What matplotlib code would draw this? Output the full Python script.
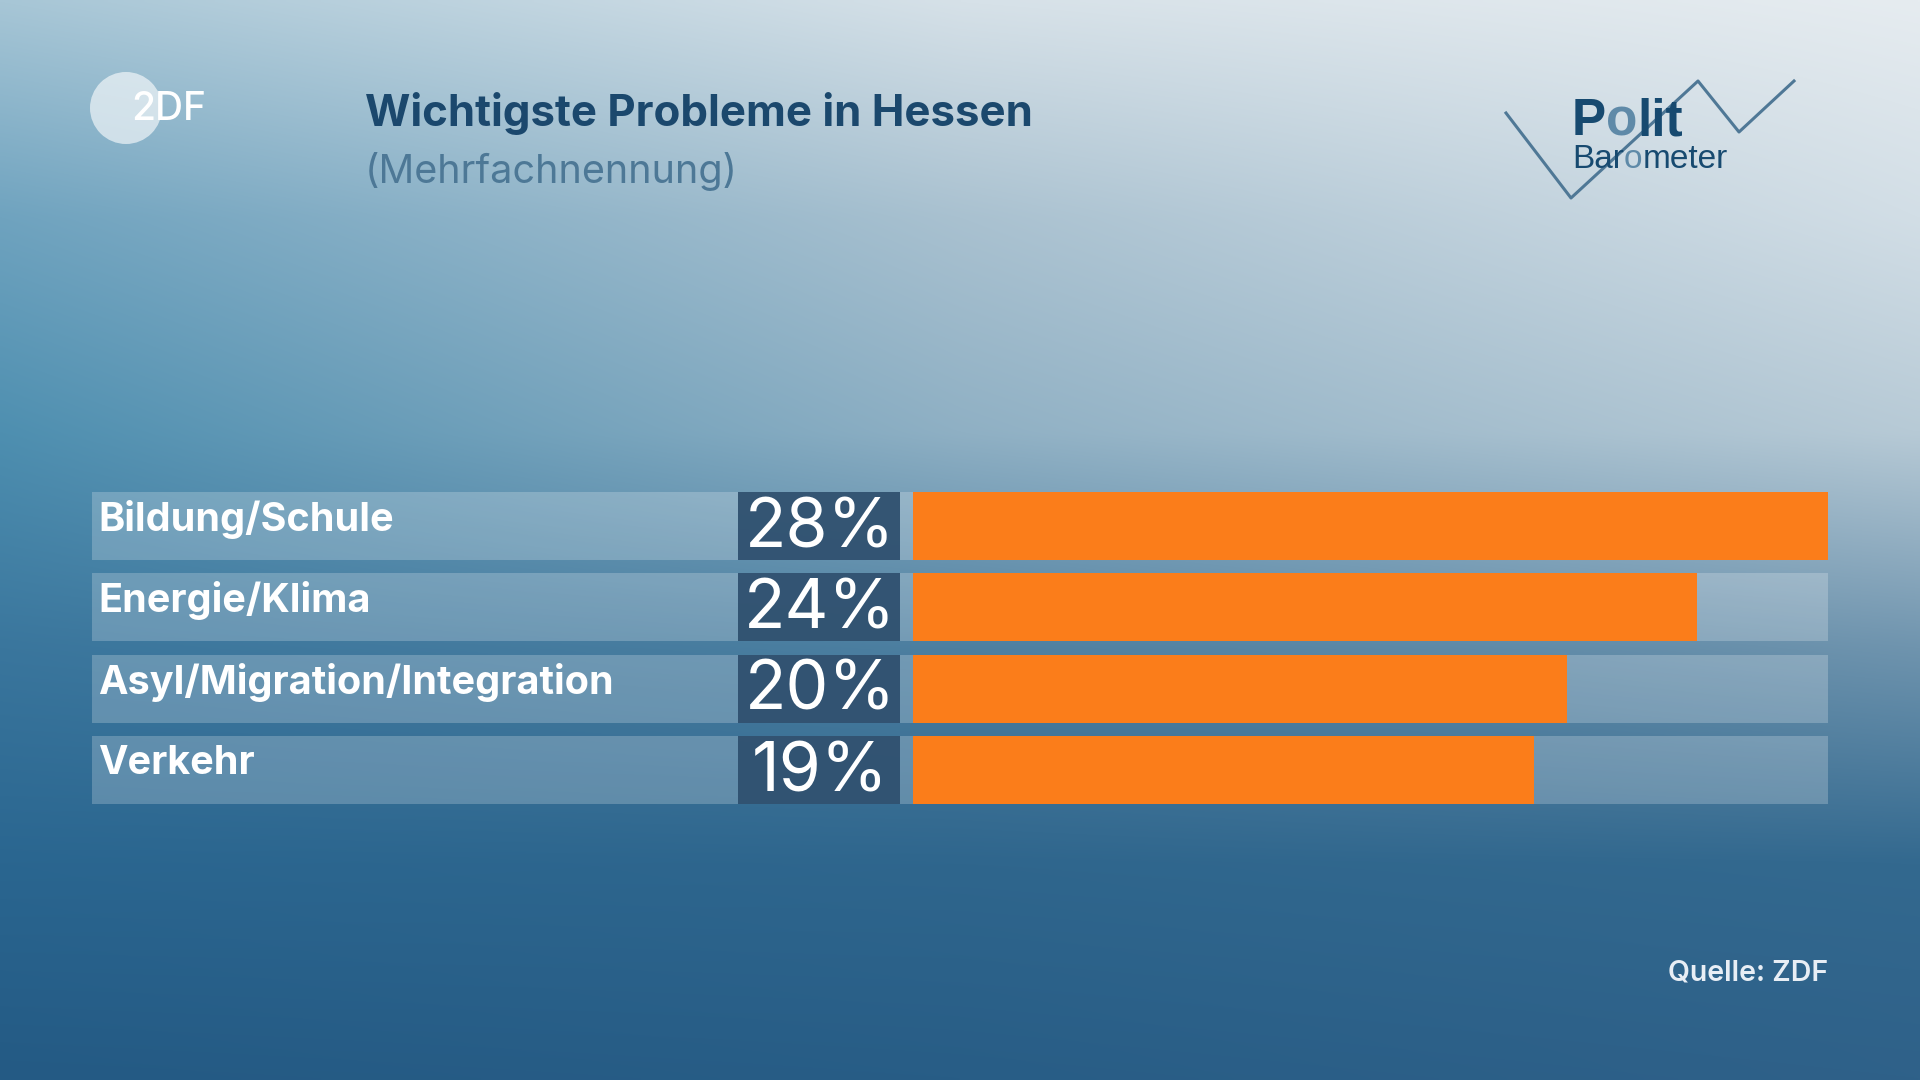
"""
Wichtigste Probleme in Hessen
=============================
"""

import numpy as np
import matplotlib
matplotlib.use("Agg")
import matplotlib.pyplot as plt
from matplotlib.patches import Circle
from matplotlib.colors import to_rgb

####################################
# Data
# ----------------------------------

categories = ["Bildung/Schule", "Energie/Klima", "Asyl/Migration/Integration", "Verkehr"]
shares = [28, 24, 20, 19]
share_labels = ["28%", "24%", "20%", "19%"]

title = "Wichtigste Probleme in Hessen"
subtitle = "(Mehrfachnennung)"
source = "Quelle: ZDF"

W, H = 1920, 1080
FONT = "Inter"

fig = plt.figure(figsize=(19.2, 10.8), dpi=100)

####################################
# Background gradient (pixel axes)
# ----------------------------------

bg = fig.add_axes([0, 0, 1, 1])
bg.set_xlim(0, W)
bg.set_ylim(H, 0)
bg.axis("off")

# control colours: rows top -> bottom, cols left -> right
ctrl = [
    ["#a7c6d6", "#d6e1e8", "#e6ecf0"],
    ["#6fa3bf", "#a9c1d0", "#d2dee6"],
    ["#4e8fb0", "#8fb0c4", "#b7cad6"],
    ["#3a769d", "#4d7fa0", "#6f94ae"],
    ["#2a6690", "#2f668d", "#33698f"],
    ["#245a84", "#285d86", "#2f6189"],
]
ctrl_rgb = np.array([[to_rgb(c) for c in row] for row in ctrl])
ry = np.linspace(0, 1, len(ctrl))
rx = np.linspace(0, 1, 3)
gy = np.linspace(0, 1, 270)
gx = np.linspace(0, 1, 480)
img = np.zeros((len(gy), len(gx), 3))
for ch in range(3):
    tmp = np.array([np.interp(gx, rx, ctrl_rgb[r, :, ch]) for r in range(len(ctrl))])
    img[:, :, ch] = np.array([np.interp(gy, ry, tmp[:, j]) for j in range(len(gx))]).T
bg.imshow(img, extent=[0, W, H, 0], aspect="auto", interpolation="bilinear", zorder=0)

####################################
# Header
# ----------------------------------

bg.add_patch(Circle((126, 108), 36, color="white", alpha=0.6, lw=0, zorder=2))
bg.text(131, 110, "2DF", color="white", fontsize=28, fontweight="medium",
        family=FONT, ha="left", va="center", zorder=3)

bg.text(365, 126, title, color="#1b486d", fontsize=31.5, fontweight="bold",
        family=FONT, ha="left", va="baseline", zorder=3)
bg.text(365, 183, subtitle, color="#4d7896", fontsize=28.5,
        family=FONT, ha="left", va="baseline", zorder=3)

# Politbarometer logo
zig_x = [1506, 1571, 1698, 1739, 1794]
zig_y = [113, 198, 81, 132, 81]
bg.plot(zig_x, zig_y, color="#4f7896", lw=2.2, zorder=2)

dark_blue = "#174a70"
light_blue = "#5f8aa8"
t = bg.text(1572, 135, "P", color=dark_blue, fontsize=37, fontweight="bold",
            family="Liberation Sans", ha="left", va="baseline", zorder=3)
for piece, col in [("o", light_blue), ("lit", dark_blue)]:
    t = bg.annotate(piece, xy=(1, 0), xycoords=t, color=col, fontsize=37,
                    fontweight="bold", family="Liberation Sans",
                    ha="left", va="bottom", zorder=3)
t = bg.text(1572, 168, "Bar", color=dark_blue, fontsize=24,
            family="Liberation Sans", ha="left", va="baseline", zorder=3)
for piece, col in [("o", light_blue), ("meter", dark_blue)]:
    t = bg.annotate(piece, xy=(1, 0), xycoords=t, color=col, fontsize=24,
                    family="Liberation Sans", ha="left", va="bottom", zorder=3)

####################################
# Bars
# ----------------------------------

x0, x1 = 913, 1828          # orange bar span in pixels
y0, y1 = 492, 804           # rows span in pixels
n = len(categories)
bh = 0.83

ax = fig.add_axes([x0 / W, 1 - y1 / H, (x1 - x0) / W, (y1 - y0) / H])
ax.set_xlim(0, max(shares))
ax.set_ylim(n - 1 + bh / 2, -bh / 2)
ax.axis("off")
ax.patch.set_alpha(0)

ypos = np.arange(n)


def px(xpix):
    # pixel x -> data x of the bar axes
    return (xpix - x0) / (x1 - x0) * max(shares)


# light panel across whole row
ax.barh(ypos, px(x1) - px(92), left=px(92), height=bh, color="white",
        alpha=0.22, lw=0, zorder=1, clip_on=False)
# dark box for the percentage
ax.barh(ypos, px(900) - px(738), left=px(738), height=bh, color="#2f506f",
        alpha=0.95, lw=0, zorder=2, clip_on=False)
# orange bars
ax.barh(ypos, shares, left=0, height=bh, color="#fb7d1a", lw=0, zorder=3)

for i, (cat, lab) in enumerate(zip(categories, share_labels)):
    ax.text(px(98), i - 0.08, cat, color="white", fontsize=28.5,
            fontweight="bold", family=FONT, ha="left", va="center",
            zorder=4, clip_on=False)
    ax.text(px(820), i + 0.04, lab, color="white", fontsize=49,
            family=FONT, ha="center", va="center", zorder=4, clip_on=False)

####################################
# Source
# ----------------------------------

bg.text(1828, 980, source, color="#e8eef5", fontsize=20.5, fontweight="semibold",
        family=FONT, ha="right", va="baseline", zorder=3)

fig.savefig("out.png", dpi=100)
